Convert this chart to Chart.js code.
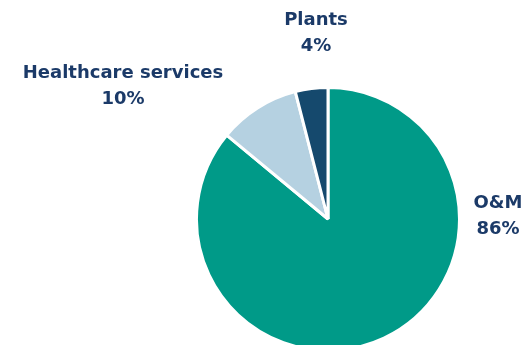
<!DOCTYPE html>
<html>
<head>
<meta charset="utf-8">
<script src="https://cdn.jsdelivr.net/npm/chart.js@4"></script>
<style>
  html, body { margin: 0; padding: 0; background: #fff; overflow: hidden; }
  #wrap { width: 529px; height: 345px; overflow: hidden; }
</style>
</head>
<body>
<div id="wrap"><canvas id="myChart" width="529" height="353"></canvas></div>
<script>
// chart data
const categories = ['O&M', 'Healthcare services', 'Plants'];
const shares = [86, 10, 4];
const colours = ['#009A88', '#B5D1E1', '#15496D'];
// label offsets from pie centre, in px
const labelPos = [[170, -3], [-205, -133], [-12, -186]];

const labelPlugin = {
  id: 'sliceLabels',
  afterDatasetsDraw(chart) {
    const ctx = chart.ctx;
    const arcs = chart.getDatasetMeta(0).data;
    ctx.save();
    ctx.fillStyle = '#1B3A68';
    ctx.font = 'bold 18px "DejaVu Sans"';
    ctx.textAlign = 'center';
    ctx.textBaseline = 'middle';
    arcs.forEach((arc, i) => {
      const x = arc.x + labelPos[i][0];
      const y = arc.y + labelPos[i][1];
      ctx.fillText(categories[i], x, y - 13);
      ctx.fillText(shares[i] + '%', x, y + 13);
    });
    ctx.restore();
  }
};

const ctx = document.getElementById('myChart').getContext('2d');
const myChart = new Chart(ctx, {
  type: 'pie',
  data: {
    labels: categories,
    datasets: [{
      data: shares,
      backgroundColor: colours,
      borderColor: '#ffffff',
      borderWidth: 3
    }]
  },
  options: {
    responsive: false,
    animation: false,
    layout: {
      padding: { left: 195, right: 68, top: 85, bottom: 0 }
    },
    plugins: {
      legend: { display: false },
      tooltip: { enabled: false }
    }
  },
  plugins: [labelPlugin]
});
</script>
</body>
</html>
